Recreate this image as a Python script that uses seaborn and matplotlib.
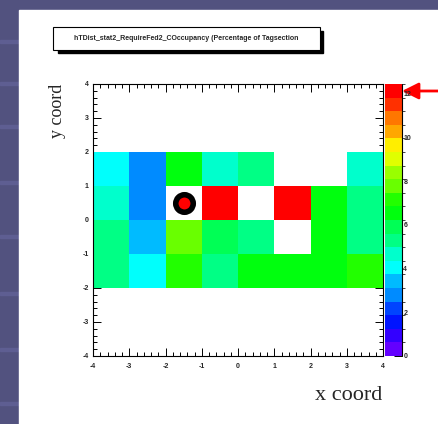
import colorsys
import numpy as np
import pandas as pd
import matplotlib
matplotlib.use('Agg')
from matplotlib import pyplot as plt
from matplotlib.colors import ListedColormap, BoundaryNorm
from matplotlib.patches import Rectangle
from matplotlib.ticker import MultipleLocator
import seaborn as sns

## Occupancy data (one list per y bin, x bins from -4 to 3) ##

nan = np.nan
x_bins = [-4, -3, -2, -1, 0, 1, 2, 3]
y_bins = [-4, -3, -2, -1, 0, 1, 2, 3]
row_ym4 = [nan, nan, nan, nan, nan, nan, nan, nan]
row_ym3 = [nan, nan, nan, nan, nan, nan, nan, nan]
row_ym2 = [5.3, 4.0, 7.2, 5.3, 6.5, 6.5, 6.5, 7.2]
row_ym1 = [5.3, 3.4, 7.8, 5.9, 5.3, nan, 6.5, 5.3]
row_y0 = [4.7, 2.8, nan, 12.45, nan, 12.2, 6.5, 5.3]
row_y1 = [4.0, 2.8, 6.5, 4.7, 5.3, nan, nan, 4.7]
row_y2 = [nan, nan, nan, nan, nan, nan, nan, nan]
row_y3 = [nan, nan, nan, nan, nan, nan, nan, nan]

axis_ticks = [-4, -3, -2, -1, 0, 1, 2, 3, 4]
cbar_ticks = [0, 2, 4, 6, 8, 10, 12]
mark_x = [-1.5]
mark_y = [0.5]
title = 'hTDist_stat2_RequireFed2_COccupancy (Percentage of Tagsection'

df = pd.DataFrame([row_ym4, row_ym3, row_ym2, row_ym1, row_y0, row_y1, row_y2, row_y3],
                  index=y_bins, columns=x_bins)

## ROOT style palette, 20 contour levels ##

n_levels = 20
pal = []
for k in range(n_levels):
    idx = int((k + 0.99) * 50 / n_levels)
    hue = 280 - (idx + 1) * 280 / 50
    pal.append(colorsys.hls_to_rgb(hue / 360, 0.5, 1.0))
cmap = ListedColormap(pal)
zmax = np.nanmax(df.values)
norm = BoundaryNorm(np.linspace(0, zmax, n_levels + 1), n_levels)

sns.set_style('ticks')
plt.rcParams['font.family'] = ['Liberation Sans', 'DejaVu Sans']

W, H = 438, 424


def fx(x):
    return x / W


def fy(y):
    return (H - y) / H


fig = plt.figure(figsize=(W / 100, H / 100), dpi=100, facecolor='#52527f')

# slide background stripes and white panel
for sy in [40, 82, 125, 181, 235, 292, 348, 402]:
    fig.add_artist(Rectangle((0, fy(sy + 3)), fx(19), 3 / H, transform=fig.transFigure,
                             color='#5e5e92', zorder=0))
fig.add_artist(Rectangle((fx(19), 0), 1 - fx(19), fy(10), transform=fig.transFigure,
                         color='white', zorder=0))

# title box with shadow
fig.add_artist(Rectangle((fx(58), fy(53)), fx(323) - fx(58), fy(31) - fy(53),
                         transform=fig.transFigure, color='black', zorder=1))
fig.add_artist(Rectangle((fx(53), fy(50)), fx(320) - fx(53), fy(27) - fy(50),
                         transform=fig.transFigure, facecolor='white', edgecolor='black',
                         lw=0.8, zorder=2))
fig.text(fx(186), fy(38), title, ha='center', va='center', fontsize=5.0,
         fontweight='bold', zorder=3)

ax = fig.add_axes([fx(93), fy(356), fx(383) - fx(93), fy(84) - fy(356)])
cax = fig.add_axes([fx(385), fy(356), fx(402) - fx(385), fy(84) - fy(356)])

sns.heatmap(df, ax=ax, cbar_ax=cax, cmap=cmap, norm=norm,
            xticklabels=False, yticklabels=False, cbar_kws={'ticks': cbar_ticks})
ax.invert_yaxis()
ax.set_facecolor('white')

off = -x_bins[0]
ax.set_xticks([t + off for t in axis_ticks])
ax.set_xticklabels(axis_ticks, fontweight='bold')
ax.set_yticks([t + off for t in axis_ticks])
ax.set_yticklabels(axis_ticks, fontweight='bold')
ax.xaxis.set_minor_locator(MultipleLocator(0.2))
ax.yaxis.set_minor_locator(MultipleLocator(0.2))
ax.tick_params(which='both', direction='in', top=True, right=True, bottom=True, left=True,
               width=0.7, color='black')
ax.tick_params(which='major', length=5.5)
ax.tick_params(which='minor', length=2.8)
ax.tick_params(axis='x', labelsize=5, pad=5)
ax.tick_params(axis='y', labelsize=5, pad=3)
for s in ax.spines.values():
    s.set_visible(True)
    s.set_linewidth(0.8)
    s.set_color('black')

# marker
ax.plot([v + off for v in mark_x], [v + off for v in mark_y], 'o', ms=12.6,
        mfc='red', mec='black', mew=4)

# colour bar axis
cbar = ax.collections[0].colorbar
cbar.outline.set_visible(False)
cax.yaxis.set_ticks_position('right')
cax.tick_params(direction='in', length=6, width=0.7, color='black', labelsize=5, pad=1)
for lab in cax.get_yticklabels():
    lab.set_fontweight('bold')
cax.plot([1, 1], [0, 1], transform=cax.transAxes, color='black', lw=0.8, clip_on=False)

# axis titles
fig.text(fx(382), fy(400), 'x coord', ha='right', va='baseline', fontsize=16,
         family='Liberation Serif')
fig.text(fx(58), fy(84), 'y coord', rotation=90, ha='center', va='top', fontsize=13,
         family='Liberation Serif')

# red arrow pointing to the top of the palette
ax.annotate('', xy=(402, H - 91), xycoords='figure pixels',
            xytext=(441, H - 91), textcoords='figure pixels',
            arrowprops=dict(arrowstyle='-|>,head_length=1.0,head_width=0.5',
                            color='red', lw=2, shrinkA=0, shrinkB=0),
            annotation_clip=False)

fig.savefig('out.png', dpi=100, facecolor=fig.get_facecolor())
